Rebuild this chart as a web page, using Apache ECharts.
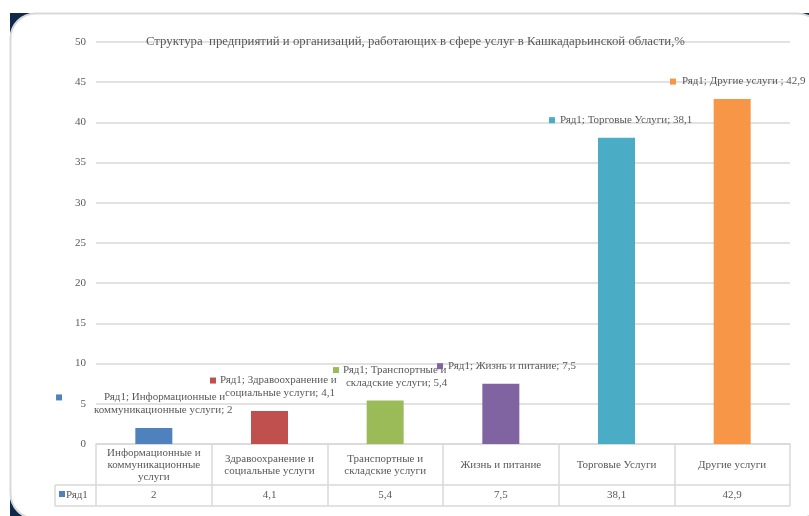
<!DOCTYPE html>
<html><head><meta charset="utf-8">
<script src="https://cdn.jsdelivr.net/npm/echarts@6/dist/echarts.min.js"></script>
<style>html,body{margin:0;padding:0;background:#fff}#c{width:809px;height:516px}</style>
</head><body><div id="c"></div>
<script>
// ---- data ----
const seriesName = 'Ряд1';
const chartTitle = 'Структура  предприятий и организаций, работающих в сфере услуг в Кашкадарьинской области,%';
const categories = ['Информационные и коммуникационные услуги', 'Здравоохранение и социальные услуги', 'Транспортные и складские услуги', 'Жизнь и питание', 'Торговые Услуги', 'Другие услуги'];
const tableLabels = ['Информационные и\nкоммуникационные\nуслуги', 'Здравоохранение и\nсоциальные услуги', 'Транспортные и\nскладские услуги', 'Жизнь и питание', 'Торговые Услуги', 'Другие услуги'];
const labelNames = ['Информационные и\nкоммуникационные услуги', 'Здравоохранение и\nсоциальные услуги', 'Транспортные и\nскладские услуги', 'Жизнь и питание', 'Торговые Услуги', 'Другие услуги '];
const values = [2, 4.1, 5.4, 7.5, 38.1, 42.9];
const yMin = 0, yMax = 50, yStep = 5;

// ---- styling / layout ----
const colors = ['#4F81BD', '#C0504D', '#9BBB59', '#8064A2', '#4BACC6', '#F79646'];
const FONT = "'Liberation Serif','Times New Roman',serif";
const TXT = '#595959';
const LINE = '#d9d9d9';
const labelLayout = [
  {dx: -97.8, gap: 42, indent: 38},
  {dx: -59.5, gap: 4, indent: 15},
  {dx: -52.2, gap: 4, indent: 13},
  {dx: -63.8, gap: 5, indent: 0},
  {dx: -67.5, gap: 5, indent: 0},
  {dx: -62.2, gap: 6, indent: 0}
];
const fmt = v => String(v).replace('.', ',');

const rich = {};
colors.forEach((c, i) => {
  rich['m' + i] = {width: 6, height: 6, backgroundColor: c};
  rich['g' + i] = {width: labelLayout[i].gap};
  rich['i' + i] = {width: labelLayout[i].indent};
});
function labelText(i) {
  const lines = (seriesName + '; ' + labelNames[i] + '; ' + fmt(values[i])).split('\n');
  let s = '{m' + i + '| }{g' + i + '| }' + lines[0];
  for (let k = 1; k < lines.length; k++) s += '\n{i' + i + '| }' + lines[k];
  return s;
}

const chart = echarts.init(document.getElementById('c'), null, {renderer: 'canvas'});
chart.setOption({
  backgroundColor: '#ffffff',
  animation: false,
  title: {
    text: chartTitle, left: 146, top: 35.5, padding: 0,
    textStyle: {fontFamily: FONT, fontSize: 12.8, fontWeight: 'normal', color: TXT}
  },
  grid: {left: 96, right: 19, top: 42, bottom: 72, containLabel: false},
  xAxis: [{
    type: 'category', data: tableLabels,
    axisLine: {lineStyle: {color: LINE, width: 1.5}},
    axisTick: {show: true, length: 62, lineStyle: {color: LINE, width: 1.5}},
    axisLabel: {interval: 0, margin: 21, verticalAlign: 'middle', fontFamily: FONT, fontSize: 11, lineHeight: 12, color: TXT}
  }, {
    type: 'category', data: values.map(fmt), position: 'bottom', offset: 41,
    axisLine: {show: true, lineStyle: {color: LINE, width: 1.5}},
    axisTick: {show: false},
    axisLabel: {interval: 0, margin: 10.5, verticalAlign: 'middle', fontFamily: FONT, fontSize: 11, color: TXT}
  }],
  yAxis: {
    type: 'value', min: yMin, max: yMax, interval: yStep,
    axisLine: {show: false}, axisTick: {show: false},
    splitLine: {lineStyle: {color: LINE, width: 1.5}},
    axisLabel: {margin: 10, fontFamily: FONT, fontSize: 11, color: TXT}
  },
  series: [{
    name: seriesName, type: 'bar', barWidth: 37, xAxisIndex: 0,
    data: values.map((v, i) => ({value: v, itemStyle: {color: colors[i]}, label: {offset: [labelLayout[i].dx, 0]}})),
    label: {
      show: true, position: 'top', distance: 11, align: 'left',
      fontFamily: FONT, fontSize: 11, lineHeight: 13, color: TXT,
      formatter: p => labelText(p.dataIndex), rich: rich
    }
  }],
  graphic: {elements: [
    {type: 'rect', z: -10, shape: {x: 10, y: 13, width: 800, height: 503}, style: {fill: '#10284a'}},
    {type: 'rect', z: -9, shape: {x: 10.5, y: 13.5, width: 812, height: 505, r: 25}, style: {fill: '#ffffff', stroke: LINE, lineWidth: 2}},
    {type: 'line', z: 50, shape: {x1: 55, y1: 506, x2: 790, y2: 506}, style: {stroke: LINE, lineWidth: 1.5}},
    {type: 'line', z: 50, shape: {x1: 55, y1: 485, x2: 96, y2: 485}, style: {stroke: LINE, lineWidth: 1.5}},
    {type: 'line', z: 50, shape: {x1: 55, y1: 485, x2: 55, y2: 506}, style: {stroke: LINE, lineWidth: 1.5}},
    {type: 'rect', z: 50, shape: {x: 59, y: 491, width: 6, height: 6}, style: {fill: colors[0]}},
    {type: 'text', z: 50, style: {x: 66, y: 495.5, text: seriesName, font: '11px ' + FONT, fill: TXT, textVerticalAlign: 'middle', verticalAlign: 'middle'}}
  ]}
});
</script></body></html>
